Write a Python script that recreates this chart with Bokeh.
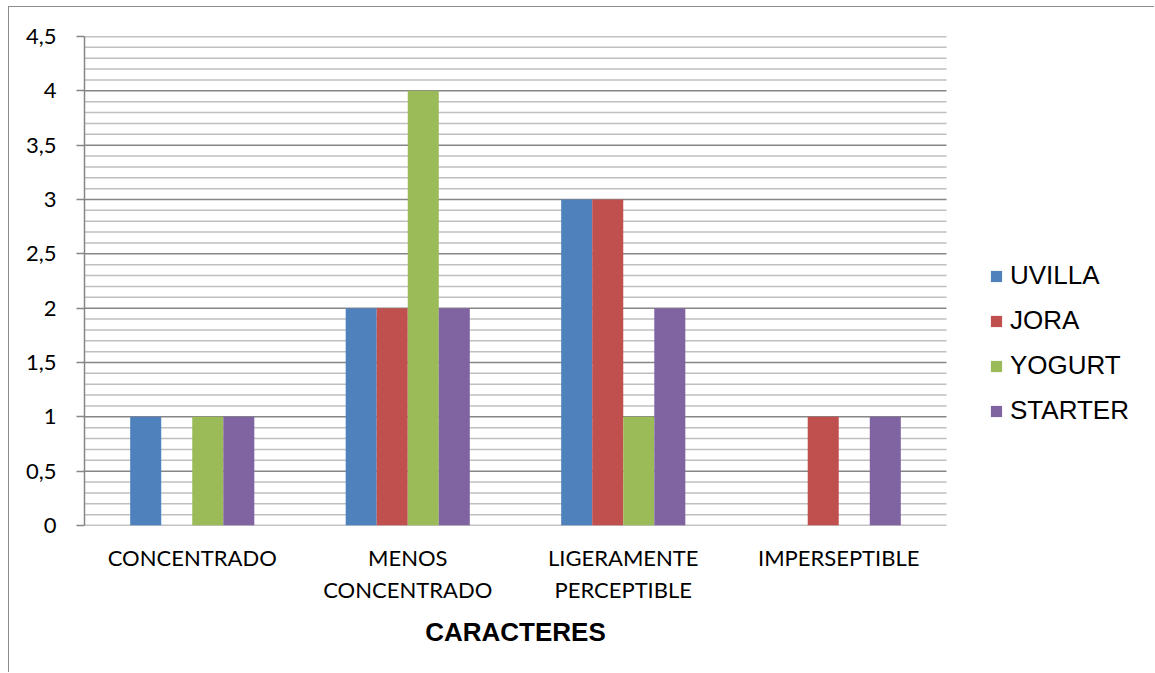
from bokeh.plotting import figure
from bokeh.models import (ColumnDataSource, Range1d, FixedTicker, CustomJSTickFormatter,
                          Legend, LegendItem, LinearAxis)
from bokeh.embed import file_html
from bokeh.resources import INLINE

categories = ["CONCENTRADO", "MENOS\nCONCENTRADO", "LIGERAMENTE\nPERCEPTIBLE", "IMPERSEPTIBLE"]
series = ["UVILLA", "JORA", "YOGURT", "STARTER"]
uvilla = [1, 2, 3, 0]
jora = [0, 2, 3, 1]
yogurt = [1, 4, 1, 0]
starter = [1, 2, 2, 1]
colors = ["#4F81BD", "#C0504D", "#9BBB59", "#8064A2"]
x_title = "CARACTERES"
y_ticks = [0, 0.5, 1, 1.5, 2, 2.5, 3, 3.5, 4, 4.5]
y_minor = [0.1, 0.2, 0.3, 0.4, 0.6, 0.7, 0.8, 0.9, 1.1, 1.2, 1.3, 1.4, 1.6, 1.7, 1.8, 1.9,
           2.1, 2.2, 2.3, 2.4, 2.6, 2.7, 2.8, 2.9, 3.1, 3.2, 3.3, 3.4, 3.6, 3.7, 3.8, 3.9,
           4.1, 4.2, 4.3, 4.4]

n = len(categories)
# the frame runs to the right edge so the legend can sit beside the plotted groups
frame_px = 1146 - 75
unit_px = 862 / n
p = figure(width=1146, height=666, output_backend="svg", toolbar_location=None,
           x_range=Range1d(0, frame_px / unit_px), y_range=Range1d(0, 4.5),
           min_border_left=75, min_border_right=0, min_border_top=29, min_border_bottom=148)
p.margin = (6, 0, 0, 8)
p.styles = {"border-left": "1px solid #8c8c8c", "border-top": "1px solid #8c8c8c"}
p.outline_line_color = None
p.background_fill_color = "white"
p.border_fill_color = "white"

# horizontal grid limited to the category span
p.segment(x0=[0] * len(y_minor), x1=[n] * len(y_minor), y0=y_minor, y1=y_minor,
          line_color="#bfbfbf", line_width=1.5)
p.segment(x0=[0] * len(y_ticks), x1=[n] * len(y_ticks), y0=y_ticks, y1=y_ticks,
          line_color="#868686", line_width=1.5)

# grouped bars
bar_w = 0.144
offsets = [-1.5 * bar_w, -0.5 * bar_w, 0.5 * bar_w, 1.5 * bar_w]
items = []
for name, vals, col, off in zip(series, [uvilla, jora, yogurt, starter], colors, offsets):
    src = ColumnDataSource(dict(x=[i + 0.5 + off for i in range(n)], top=vals))
    r = p.vbar(x="x", top="top", width=bar_w, source=src, fill_color=col, line_color=None)
    items.append(LegendItem(label=name, renderers=[r]))

legend = Legend(items=items, location=(905, 92), orientation="vertical",
                glyph_width=14, glyph_height=14, label_height=45, spacing=0,
                label_standoff=7, padding=0, margin=0,
                label_text_font="Liberation Sans", label_text_font_size="26px",
                label_text_color="#000000", border_line_color=None,
                background_fill_alpha=0)
p.add_layout(legend)

# y axis
p.yaxis.ticker = FixedTicker(ticks=y_ticks, minor_ticks=y_minor)
p.yaxis.formatter = CustomJSTickFormatter(
    code="return tick.toFixed(1).replace(/\\.0$/, '').replace('.', ',');")
p.yaxis.major_label_text_font = "Lato"
p.yaxis.major_label_text_font_size = "22px"
p.yaxis.major_label_text_color = "#000000"
p.yaxis.major_tick_out = 8
p.yaxis.major_tick_in = 0
p.yaxis.minor_tick_line_color = None
p.yaxis.axis_line_color = "#868686"
p.yaxis.axis_line_width = 1.5
p.yaxis.major_tick_line_color = "#868686"
p.yaxis.major_tick_line_width = 1.5
p.yaxis.major_label_standoff = 20

# x axis with category names
p.xaxis.ticker = FixedTicker(ticks=[i + 0.5 for i in range(n)])
p.xaxis.formatter = CustomJSTickFormatter(args=dict(labels=categories),
                                          code="return labels[Math.floor(tick)];")
p.xaxis.major_label_text_font = "Lato"
p.xaxis.major_label_text_font_size = "22px"
p.xaxis.major_label_text_color = "#000000"
p.xaxis.major_tick_line_color = None
p.xaxis.major_tick_out = 0
p.xaxis.minor_tick_line_color = None
p.xaxis.axis_line_color = None
p.xaxis.major_label_standoff = 18

# axis title centred under the category span
title_axis = LinearAxis(ticker=FixedTicker(ticks=[n / 2]),
                        formatter=CustomJSTickFormatter(args=dict(t=x_title), code="return t;"),
                        axis_line_color=None, major_tick_line_color=None,
                        minor_tick_line_color=None, major_tick_out=0,
                        major_label_standoff=11,
                        major_label_text_font="Liberation Sans",
                        major_label_text_font_style="bold",
                        major_label_text_font_size="26px",
                        major_label_text_color="#000000")
p.add_layout(title_axis, "below")

p.xgrid.visible = False
p.ygrid.visible = False

open("out.html", "w").write(file_html(p, INLINE))
